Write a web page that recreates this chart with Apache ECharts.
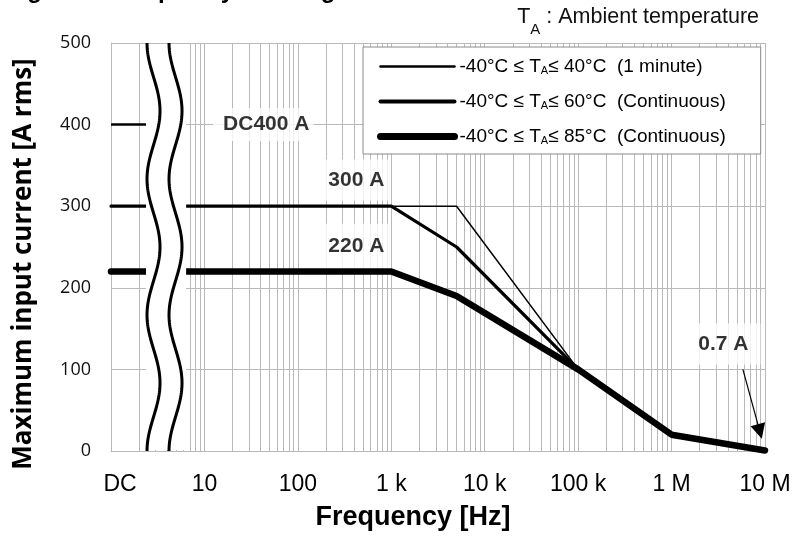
<!DOCTYPE html>
<html><head><meta charset="utf-8">
<script src="https://cdn.jsdelivr.net/npm/echarts@6/dist/echarts.min.js"></script>
<style>html,body{margin:0;padding:0;background:#fff}#c{width:795px;height:536px}</style>
</head><body><div id="c"></div>
<script>
// ---- data ----
const tickValues = [1, 10, 100, 1000, 10000, 100000, 1000000, 10000000];
const tickLabels = ['DC', '10', '100', '1 k', '10 k', '100 k', '1 M', '10 M'];

const seriesNames = [
  '-40°C ≤ TA≤ 40°C  (1 minute)',
  '-40°C ≤ TA≤ 60°C  (Continuous)',
  '-40°C ≤ TA≤ 85°C  (Continuous)'
];
const freq1min = [1, 5000, 100000, 1000000, 10000000];
const amp1min  = [300, 300, 100, 20, 0.7];
const freq60   = [1, 1000, 5000, 100000, 1000000, 10000000];
const amp60    = [300, 300, 250, 100, 20, 0.7];
const freq85   = [1, 1000, 5000, 100000, 1000000, 10000000];
const amp85    = [220, 220, 190, 100, 20, 0.7];
const freqDC   = [1, 3];
const ampDC    = [400, 400];

const annoText = ['DC400 A', '300 A', '220 A', '0.7 A'];
const annoFreq = [42.6, 423, 423, 3.58e6];
const annoAmp  = [400, 332, 251, 131];
const arrowFrom = [5.8e6, 100];
const arrowTo   = [8.8e6, 24];
const breakFreq = [2.37, 6.37];

// ---- chart ----
const chart = echarts.init(document.getElementById('c'), null, {renderer: 'canvas'});
const zip = (a, b) => a.map((v, i) => [v, b[i]]);
const minor = [];
for (let d = 0; d < 7; d++) for (let k = 2; k < 10; k++) minor.push(k * Math.pow(10, d));
const gridColor = '#b9b9b9';
const F = 'Liberation Sans';
const annoPad = [[6, 4, 6, 10], [10, 6], [12, 6], [10, 12]];

const lineSeries = (name, f, a, w) => ({
  type: 'line', name: name, data: zip(f, a), symbol: 'none', showSymbol: false, clip: false, z: 4, silent: true,
  itemStyle: {color: '#000'},
  lineStyle: {color: '#000', width: w, join: 'round', cap: 'round'}
});

const option = {
  animation: false,
  backgroundColor: '#fff',
  grid: {left: 111, right: 30, top: 43, bottom: 81},
  xAxis: {
    type: 'log', logBase: 10, min: 1, max: 1e7, splitNumber: 7,
    name: 'Frequency [Hz]', nameLocation: 'middle', nameGap: 53,
    nameTextStyle: {fontFamily: F, fontWeight: 'bold', fontSize: 27, color: '#000', padding: [0, 50, 0, 0]},
    axisLine: {show: true, lineStyle: {color: gridColor, width: 1}},
    axisTick: {show: false},
    axisLabel: {
      margin: 22, fontFamily: F, fontSize: 23, color: '#000', showMinLabel: true, showMaxLabel: true,
      formatter: v => {
        const i = tickValues.findIndex(t => Math.abs(t - v) / t < 1e-6);
        if (i < 0) return '';
        return i === 0 ? '{dc|' + tickLabels[0] + '}' : tickLabels[i];
      },
      rich: {dc: {fontFamily: F, fontSize: 23, color: '#000', padding: [0, 0, 0, 18]}}
    },
    splitLine: {show: true, lineStyle: {color: gridColor, width: 1}}
  },
  yAxis: {
    type: 'value', min: 0, max: 500, interval: 100,
    name: 'Maximum input current [A rms]', nameLocation: 'middle', nameRotate: 90, nameGap: 74,
    nameTextStyle: {fontFamily: 'Open Sans', fontWeight: 'bold', fontSize: 26, color: '#000', padding: [0, 34, 0, 0]},
    axisLine: {show: true, lineStyle: {color: gridColor, width: 1}},
    axisTick: {show: false},
    axisLabel: {margin: 20, fontFamily: 'Open Sans', fontSize: 18, color: '#111'},
    splitLine: {show: true, lineStyle: {color: gridColor, width: 1}}
  },
  legend: {
    orient: 'vertical', left: 363, top: 47, padding: [10, 35, 8, 14], itemGap: 16,
    itemWidth: 74, itemHeight: 14, z: 6,
    backgroundColor: '#fff', borderColor: '#8a8a8a', borderWidth: 1, borderRadius: 0,
    selectedMode: false,
    itemStyle: {opacity: 0},
    lineStyle: {width: 'inherit'},
    textStyle: {
      fontFamily: F, fontSize: 19, color: '#000', lineHeight: 19,
      rich: {a: {fontFamily: F, fontSize: 11, lineHeight: 11, verticalAlign: 'bottom', color: '#000'}}
    },
    formatter: n => n.replace('TA', 'T{a|A}'),
    data: seriesNames.map((n, i) => ({name: n, itemStyle: {opacity: 0}, lineStyle: {width: [2.5, 4, 7][i], cap: 'round', color: '#000'}}))
  },
  graphic: [
    {type: 'text', x: 6, y: -9, silent: true,
     style: {text: 'Figure 4. Frequency derating', font: 'bold 24px "Liberation Sans"', fill: '#000', verticalAlign: 'middle'}},
    {type: 'text', x: 759, y: 17.5, silent: true,
     style: {text: 'T{s|A} : Ambient temperature', font: '21.5px "Liberation Sans"', fill: '#111', align: 'right', verticalAlign: 'middle', lineHeight: 40,
       rich: {s: {fontFamily: F, fontSize: 15, lineHeight: 15, verticalAlign: 'bottom', fill: '#111'}}}}
  ],
  series: [
    {type: 'line', name: 'minorGrid', data: [], z: 1, silent: true,
     markLine: {z: 1, silent: true, symbol: 'none', animation: false, label: {show: false},
       lineStyle: {color: gridColor, width: 1, type: 'solid'}, emphasis: {disabled: true},
       data: minor.map(v => ({xAxis: v}))}},
    {type: 'scatter', name: 'annotations', z: 3, silent: true, symbolSize: 1,
     itemStyle: {color: 'rgba(0,0,0,0)'},
     data: annoText.map((t, i) => ({value: [annoFreq[i], annoAmp[i]], label: {padding: annoPad[i]}})),
     label: {show: true, position: 'inside', formatter: p => annoText[p.dataIndex],
       fontFamily: F, fontWeight: 'bold', fontSize: 21, color: '#000', backgroundColor: '#fff'}},
    {type: 'line', name: 'arrow', data: [], z: 6, silent: true,
     itemStyle: {color: '#000'},
     markLine: {z: 6, silent: true, symbol: ['none', 'triangle'], symbolSize: 15, label: {show: false},
       itemStyle: {color: '#000'},
       lineStyle: {color: '#000', width: 1.2, type: 'solid'}, emphasis: {disabled: true},
       data: [[{coord: arrowFrom}, {coord: arrowTo}]]}},
    {type: 'line', name: 'DC', data: zip(freqDC, ampDC), symbol: 'none', z: 4, silent: true,
     lineStyle: {color: '#000', width: 2.5}},
    lineSeries(seriesNames[0], freq1min, amp1min, 1.5),
    lineSeries(seriesNames[1], freq60, amp60, 3.2),
    lineSeries(seriesNames[2], freq85, amp85, 6.5),
    {type: 'custom', name: 'break', z: 5, silent: true, clip: false, data: [breakFreq],
     renderItem: (params, api) => {
       const cs = params.coordSys;
       const top = cs.y, bottom = cs.y + cs.height;
       const xl = api.coord([api.value(0), 0])[0];
       const xr = api.coord([api.value(1), 0])[0];
       const P = cs.height / 3;
       const wave = off => {
         const pts = [];
         for (let y = top; y <= bottom + 0.01; y += 2)
           pts.push([xl + off + 6.5 * (1 - Math.cos(2 * Math.PI * (y - top) / P)), y]);
         return pts;
       };
       return {type: 'group', children: [
         {type: 'rect', shape: {x: xl, y: top + 1, width: xr - xl, height: cs.height - 2}, style: {fill: '#fff'}},
         {type: 'polyline', shape: {points: wave(1)}, style: {stroke: '#000', lineWidth: 3, fill: null}},
         {type: 'polyline', shape: {points: wave(23)}, style: {stroke: '#000', lineWidth: 3, fill: null}}
       ]};
     }}
  ]
};
chart.setOption(option);
</script></body></html>
